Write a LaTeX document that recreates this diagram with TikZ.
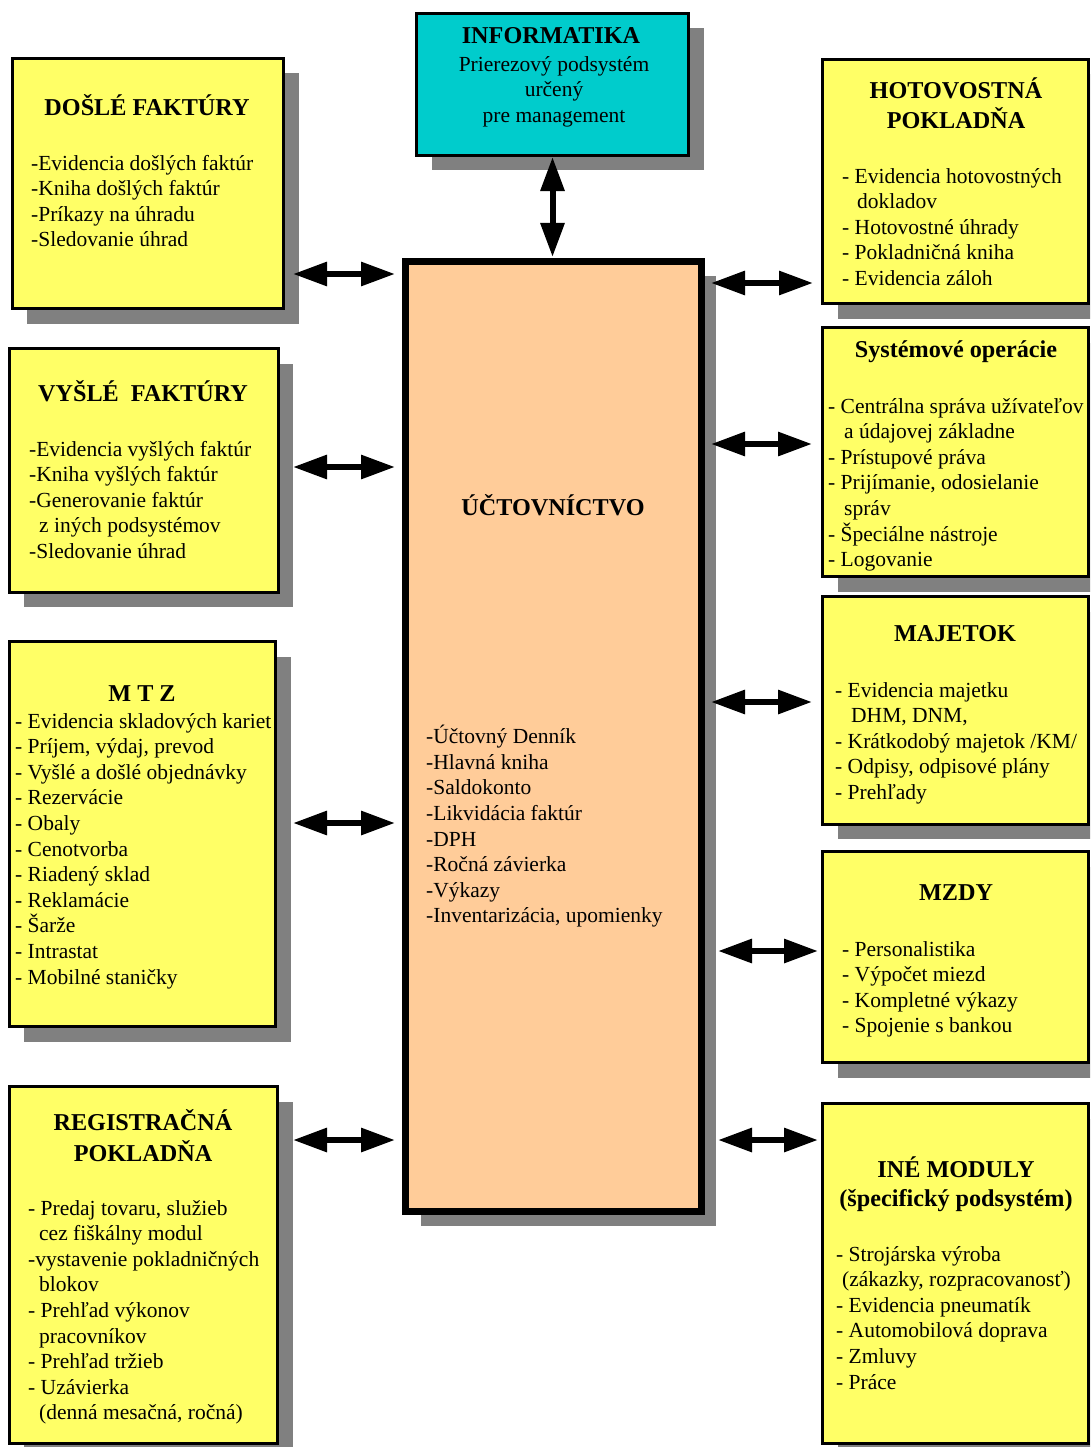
\documentclass[tikz,border=0pt]{standalone}
\usepackage{fontspec}
\setmainfont{Liberation Serif}
\usetikzlibrary{arrows.meta,shadows}
\definecolor{boxyellow}{HTML}{FFFF66}
\definecolor{infocyan}{HTML}{00CCCC}
\definecolor{mainpeach}{HTML}{FFCC99}
\definecolor{shadowgray}{HTML}{808080}
\begin{document}
\begin{tikzpicture}[x=1bp,y=-1bp,
  box/.style={draw=black, line width=3bp, fill=boxyellow, inner sep=0, outer sep=0,
    general shadow={fill=shadowgray, shadow xshift=15bp, shadow yshift=-15bp}},
  mainbox/.style={box, line width=7bp, fill=mainpeach},
  infobox/.style={box, fill=infocyan},
  title/.style={font=\bfseries\fontsize{24.2bp}{29bp}\selectfont, align=center, inner sep=0, anchor=center},
  body/.style={font=\fontsize{21.5bp}{25.6bp}\selectfont, align=left, inner sep=0, anchor=north west},
  cbody/.style={body, align=center, anchor=north},
  biarrow/.style={line width=6bp, {Triangle[length=34bp,width=23bp]}-{Triangle[length=34bp,width=23bp]}}
]
\clip (0,0) rectangle (1090,1447);
\fill[white] (0,0) rectangle (1090,1447);

% boxes
\node[infobox, minimum width=272bp, minimum height=141.5bp] (info) at (552.5,84.25) {};
\node[box, minimum width=271bp, minimum height=250bp] (dosle) at (148,183.5) {};
\node[box, minimum width=268.5bp, minimum height=243.5bp] (vysle) at (143.75,470.25) {};
\node[box, minimum width=266bp, minimum height=385bp] (mtz) at (142.5,834) {};
\node[box, minimum width=268bp, minimum height=357bp] (reg) at (143.5,1265) {};
\node[box, minimum width=266bp, minimum height=244bp] (hot) at (955.5,181.5) {};
\node[box, minimum width=266bp, minimum height=249bp] (sys) at (955.5,452) {};
\node[box, minimum width=266bp, minimum height=227.5bp] (maj) at (955.5,710.25) {};
\node[box, minimum width=266bp, minimum height=211bp] (mzdy) at (955.5,957) {};
\node[box, minimum width=266bp, minimum height=340bp] (ine) at (955.5,1273.5) {};
\node[mainbox, minimum width=295.5bp, minimum height=949.5bp] (main) at (553.25,736.25) {};

% texts
\node[title] (infoT) at (551,38) {\strut INFORMATIKA};
\node[cbody] (infoB) at (554,53) {\strut Prierezový podsystém\\ určený\\ pre management\strut};

\node[title] (dosleT) at (147,109) {\strut DOŠLÉ FAKTÚRY};
\node[body] (dosleB) at (31,152) {\strut -Evidencia došlých faktúr\\-Kniha došlých faktúr\\-Príkazy na úhradu\\-Sledovanie úhrad\strut};

\node[title] (vysleT) at (143,395) {\strut VYŠLÉ\ \ FAKTÚRY};
\node[body] (vysleB) at (29,438) {\strut -Evidencia vyšlých faktúr\\-Kniha vyšlých faktúr\\-Generovanie faktúr\\\hspace*{10bp}z iných podsystémov\\-Sledovanie úhrad\strut};

\node[title] (mtzT) at (142,696) {\strut M T Z};
\node[body] (mtzB) at (15,710) {\strut - Evidencia skladových kariet\\- Príjem, výdaj, prevod\\- Vyšlé a došlé objednávky\\- Rezervácie\\- Obaly\\- Cenotvorba\\- Riadený sklad\\- Reklamácie\\- Šarže\\- Intrastat\\- Mobilné staničky\strut};

\node[title] (regT) at (143,1139.5) {\strut REGISTRAČNÁ\\POKLADŇA\strut};
\node[body] (regB) at (28,1197) {\strut - Predaj tovaru, služieb\\\hspace*{11bp}cez fiškálny modul\\-vystavenie pokladničných\\\hspace*{11bp}blokov\\- Prehľad výkonov\\\hspace*{11bp}pracovníkov\\- Prehľad tržieb\\- Uzávierka\\\hspace*{11bp}(denná mesačná, ročná)\strut};

\node[title] (hotT) at (956,107.5) {\strut HOTOVOSTNÁ\\POKLADŇA\strut};
\node[body] (hotB) at (842,165) {\strut - Evidencia hotovostných\\\hspace*{15bp}dokladov\\- Hotovostné úhrady\\- Pokladničná kniha\\- Evidencia záloh\strut};

\node[title] (sysT) at (956,352) {\strut Systémové operácie};
\node[body] (sysB) at (828,395) {\strut - Centrálna správa užívateľov\\\hspace*{16bp}a údajovej základne\\- Prístupové práva\\- Prijímanie, odosielanie\\\hspace*{16bp}správ\\- Špeciálne nástroje\\- Logovanie\strut};

\node[title] (majT) at (955,636) {\strut MAJETOK};
\node[body] (majB) at (835,679) {\strut - Evidencia majetku\\\hspace*{16bp}DHM, DNM,\\- Krátkodobý majetok /KM/\\- Odpisy, odpisové plány\\- Prehľady\strut};

\node[title] (mzdyT) at (956,895) {\strut MZDY};
\node[body] (mzdyB) at (842,938) {\strut - Personalistika\\- Výpočet miezd\\- Kompletné výkazy\\- Spojenie s bankou\strut};

\node[title] (ineT) at (956,1185.5) {\strut INÉ MODULY\\(špecifický podsystém)\strut};
\node[body] (ineB) at (836,1243) {\strut - Strojárska výroba\\\hspace*{6bp}(zákazky, rozpracovanosť)\\- Evidencia pneumatík\\- Automobilová doprava\\- Zmluvy\\- Práce\strut};

\node[title] (mainT) at (553,509) {\strut ÚČTOVNÍCTVO};
\node[body] (mainB) at (426,725) {\strut -Účtovný Denník\\-Hlavná kniha\\-Saldokonto\\-Likvidácia faktúr\\-DPH\\-Ročná závierka\\-Výkazy\\-Inventarizácia, upomienky\strut};

% row coordinates
\coordinate (yl1) at (0,274);
\coordinate (yl2) at (0,467);
\coordinate (yl3) at (0,823);
\coordinate (yl4) at (0,1140);
\coordinate (yr1) at (0,283);
\coordinate (yr2) at (0,444);
\coordinate (yr3) at (0,702);
\coordinate (yr4) at (0,951);
\coordinate (yr5) at (0,1140);

% connectors
\draw[biarrow, shorten <=2bp, shorten >=4.5bp] (info.south) -- (info.south |- main.north);
\draw[biarrow, shorten <=9.5bp, shorten >=10.5bp] (dosle.east |- yl1) -- (main.west |- yl1);
\draw[biarrow, shorten <=15bp, shorten >=10.5bp] (vysle.east |- yl2) -- (main.west |- yl2);
\draw[biarrow, shorten <=17.5bp, shorten >=10.5bp] (mtz.east |- yl3) -- (main.west |- yl3);
\draw[biarrow, shorten <=15.5bp, shorten >=10.5bp] (reg.east |- yl4) -- (main.west |- yl4);
\draw[biarrow, shorten <=10bp, shorten >=9.5bp] (main.east |- yr1) -- (hot.west |- yr1);
\draw[biarrow, shorten <=10bp, shorten >=10.5bp] (main.east |- yr2) -- (sys.west |- yr2);
\draw[biarrow, shorten <=10bp, shorten >=10.5bp] (main.east |- yr3) -- (maj.west |- yr3);
\draw[biarrow, shorten <=17bp, shorten >=4.5bp] (main.east |- yr4) -- (mzdy.west |- yr4);
\draw[biarrow, shorten <=17bp, shorten >=4.5bp] (main.east |- yr5) -- (ine.west |- yr5);
\end{tikzpicture}
\end{document}
